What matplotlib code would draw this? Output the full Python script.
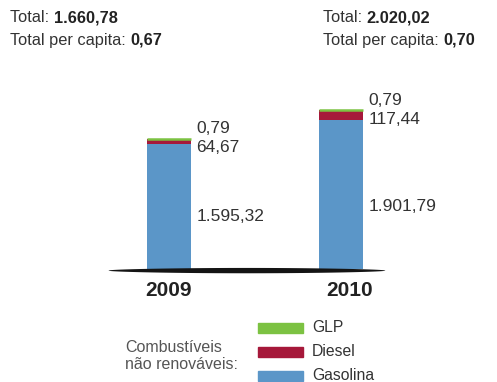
import numpy as np
import matplotlib.pyplot as plt
from matplotlib.patches import Rectangle

plt.rcParams['font.family'] = ['Liberation Sans', 'DejaVu Sans']

years = ['2009', '2010']
gasolina = [1595.32, 1901.79]
diesel = [64.67, 117.44]
glp = [0.79, 0.79]
totals = ['1.660,78', '2.020,02']
per_capita = ['0,67', '0,70']
series_names = ['GLP', 'Diesel', 'Gasolina']

blue = '#5b96c8'
red = '#a6183a'
green = '#7cc242'
txt = '#333333'


def fmt(v):
    s = f'{v:,.2f}'
    return s.replace(',', '_').replace('.', ',').replace('_', '.')


fig = plt.figure(figsize=(4.97, 3.82), dpi=100)
ax = fig.add_axes([0.167, 0.2547, 0.692, 0.555])
ax.set_xlim(-0.5, 1.5)
ax.set_ylim(-200, 2500)
ax.axis('off')

x = np.arange(len(years))
gas = np.array(gasolina)
dsl = np.array(diesel)
lp = np.array(glp)
w = 0.26

ax.bar(x, gas, width=w, color=blue, zorder=2)
ax.bar(x, dsl, width=w, bottom=gas, color=red, zorder=2)
ax.bar(x, lp, width=w, bottom=gas + dsl, color=green,
       edgecolor=green, linewidth=1.8, zorder=3)

# brush-like baseline under the bars
bx = np.linspace(-0.355, 1.256, 300)
t = (bx - bx[0]) / (bx[-1] - bx[0])
half = 34 * np.sin(np.pi * t) ** 0.5
ax.fill_between(bx, -14 - half, -14 + half, color='#141414', lw=0, zorder=4)

# value labels to the right of each bar
for i in range(len(years)):
    top = gas[i] + dsl[i] + lp[i]
    lx = x[i] + 0.16
    ax.text(lx, top + 130, fmt(lp[i]), fontsize=12.5, color=txt, va='center')
    ax.text(lx, top - 112, fmt(dsl[i]), fontsize=12.5, color=txt, va='center')
    ax.text(lx, gas[i] * 0.42, fmt(gas[i]), fontsize=12.5, color=txt,
            va='center')
    ax.text(x[i] + (0.05 if i else 0), -270, years[i], fontsize=15,
            fontweight='bold', color='#222222', ha='center', va='center')

# totals header
hs = 11.8
for i, xf in enumerate([10 / 497, 323 / 497]):
    t1 = fig.text(xf, 1 - 18 / 382, 'Total: ', fontsize=hs, color=txt,
                  va='center')
    ax.annotate(totals[i], xy=(1, 0.5), xycoords=t1, va='center',
                fontsize=hs, fontweight='bold', color='#222222')
    t2 = fig.text(xf, 1 - 40 / 382, 'Total per capita: ', fontsize=hs,
                  color=txt, va='center')
    ax.annotate(per_capita[i], xy=(1, 0.5), xycoords=t2, va='center',
                fontsize=hs, fontweight='bold', color='#222222')

# legend
fig.text(125 / 497, 1 - 356 / 382, 'Combustíveis\nnão renováveis:',
         fontsize=11.5, color='#555555', va='center', linespacing=1.1)
for j, (name, col) in enumerate(zip(series_names, [green, red, blue])):
    yc = 1 - (327.5 + 24 * j) / 382
    fig.add_artist(Rectangle((258 / 497, yc - 5 / 382), 45 / 497, 10 / 382,
                             transform=fig.transFigure, color=col))
    fig.text(312 / 497, yc, name, fontsize=11.3, color=txt, va='center')

fig.savefig('out.png', dpi=100)
